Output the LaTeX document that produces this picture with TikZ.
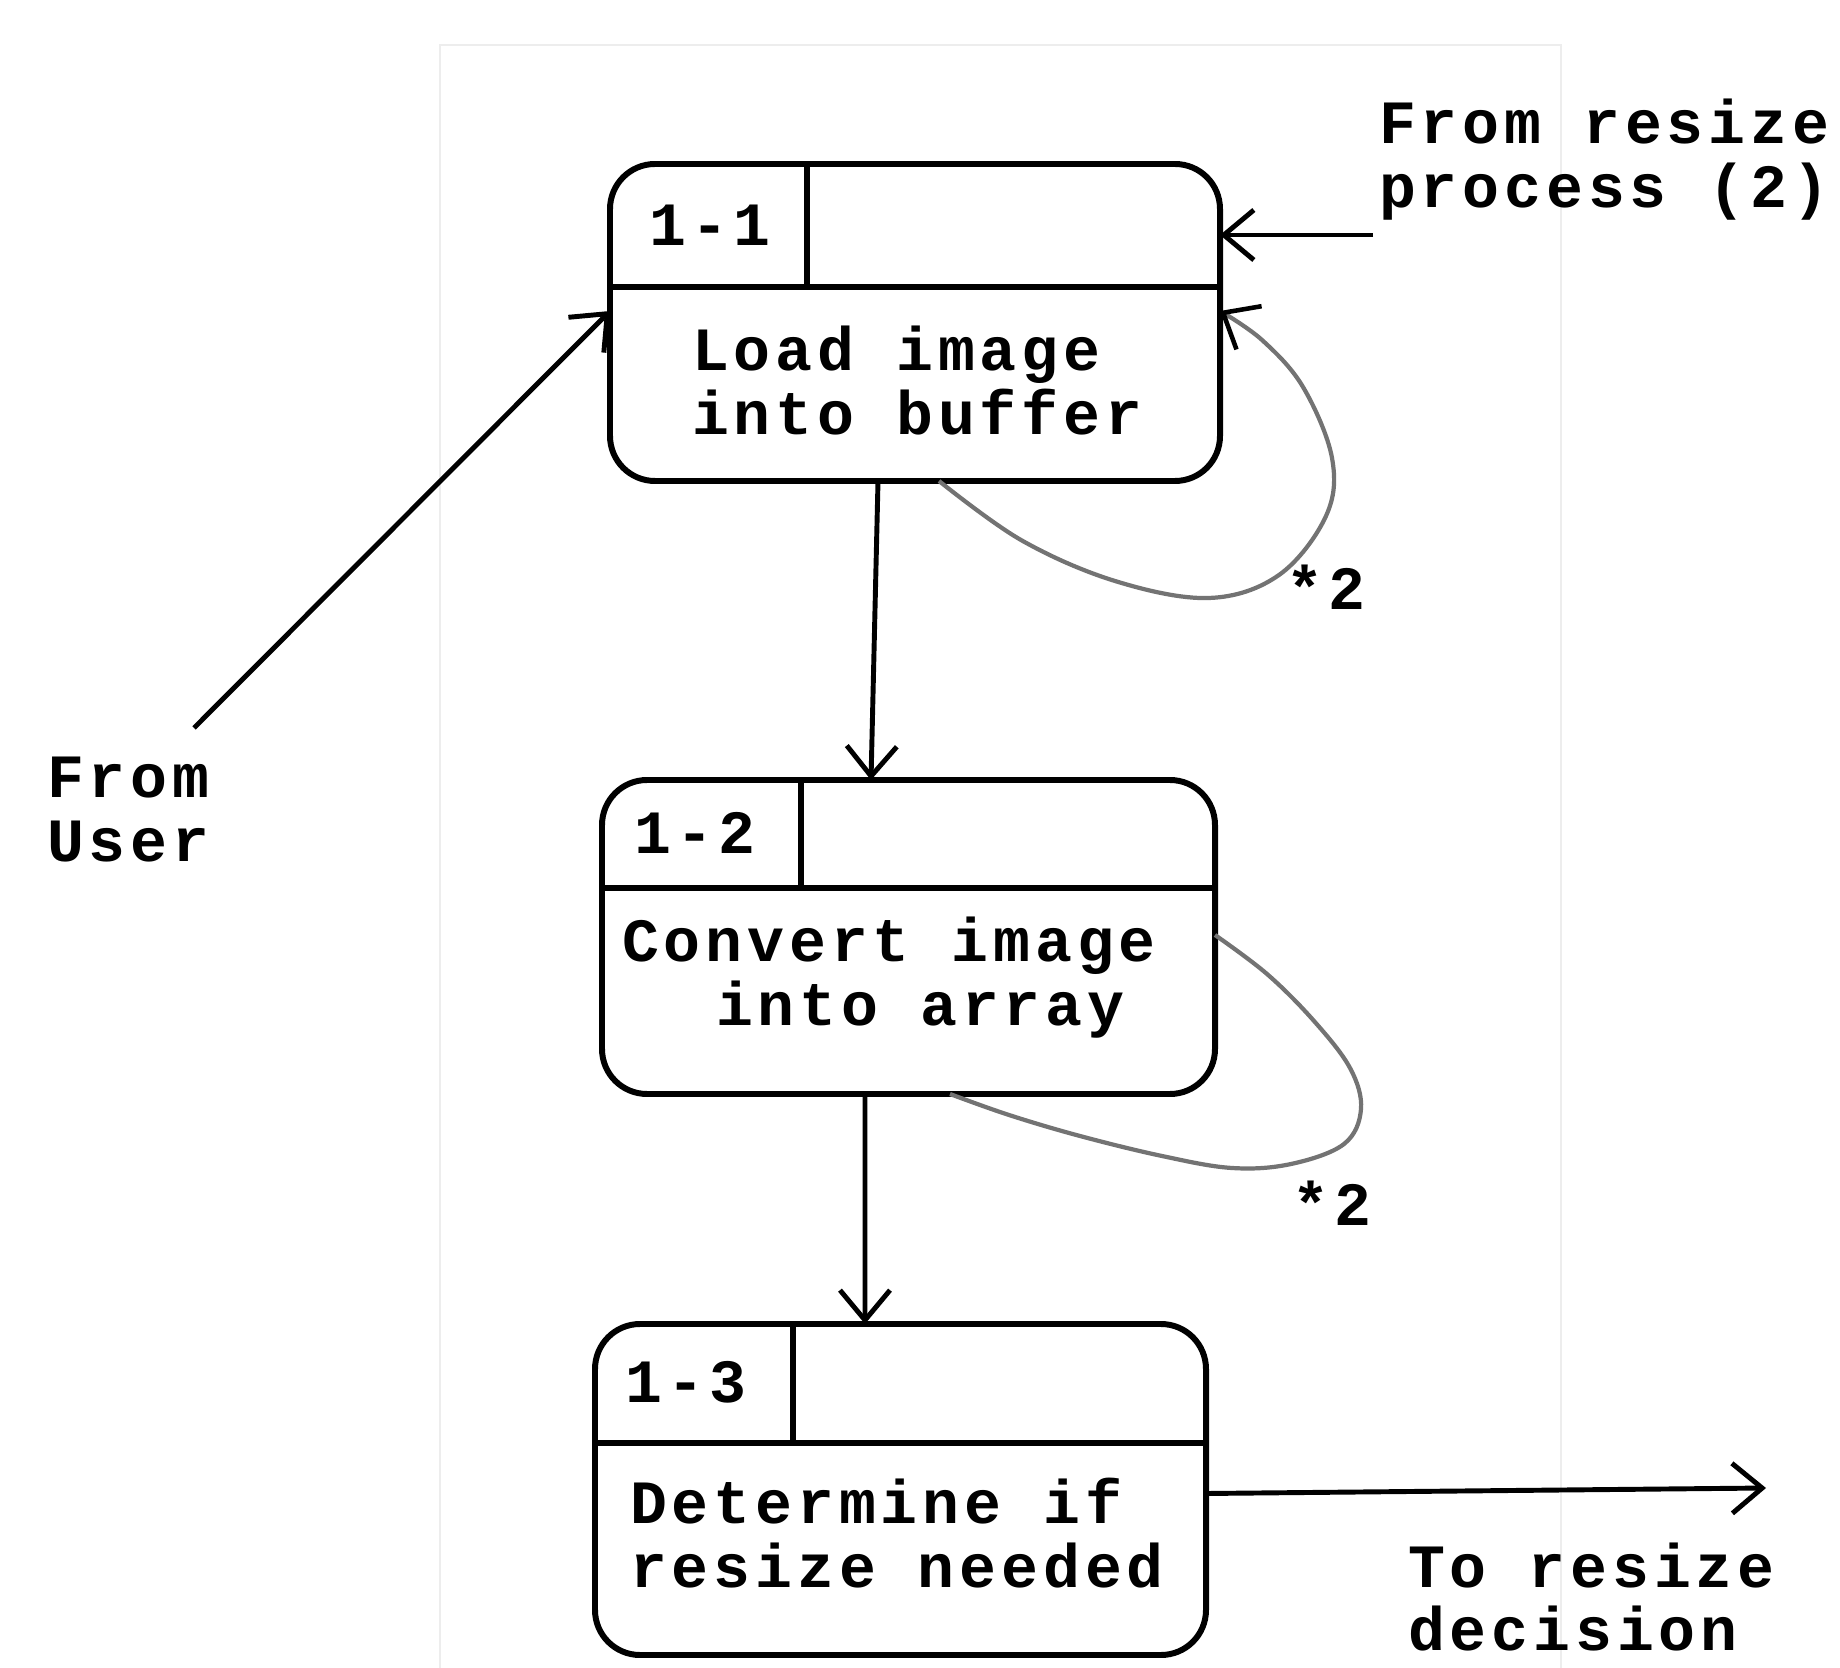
\documentclass[tikz,border=0pt]{standalone}
\usepackage{fontspec}
\newfontfamily\tw[LetterSpace=8]{Liberation Mono}
\usetikzlibrary{arrows.meta,calc}
\begin{document}
\begin{tikzpicture}[x=0.1mm,y=-0.1mm,
  every node/.style={font=\tw\bfseries\fontsize{17.5pt}{18.2pt}\selectfont, inner sep=0pt, outer sep=0pt},
  procbox/.style={draw, line width=1.7pt, rounded corners=4.5mm},
  div/.style={line width=1.6pt},
  flow/.style={line width=1.4pt, -{Straight Barb[length=3mm,width=5mm,line width=1.4pt]}},
  loopline/.style={line width=1.2pt, black!55},
  txt/.style={align=left, anchor=west}]
\useasboundingbox (0,0) rectangle (1840,1668);
% faint scan frame
\draw[black!7, line width=0.6pt] (440,1668) -- (440,45) -- (1561,45) -- (1561,1668);

% process boxes
\node[procbox, minimum width=61mm, minimum height=31.7mm] (p1) at (915,322.5) {};
\node[procbox, minimum width=61.3mm, minimum height=31.4mm] (p2) at (908.5,937) {};
\node[procbox, minimum width=61.1mm, minimum height=33.1mm] (p3) at (900.5,1489.5) {};

% dividers
\draw[div] ($(p1.north west)+(0,123)$) -- ($(p1.north east)+(0,123)$);
\draw[div] ($(p1.north west)+(197,0)$) -- ($(p1.north west)+(197,123)$);
\draw[div] ($(p2.north west)+(0,108)$) -- ($(p2.north east)+(0,108)$);
\draw[div] ($(p2.north west)+(199,0)$) -- ($(p2.north west)+(199,108)$);
\draw[div] ($(p3.north west)+(0,119)$) -- ($(p3.north east)+(0,119)$);
\draw[div] ($(p3.north west)+(198,0)$) -- ($(p3.north west)+(198,119)$);

% ids
\node (n1) at (710,225) {1-1};
\node (n2) at (695,833) {1-2};
\node (n3) at (686,1382) {1-3};

% box texts
\node[txt] (t1) at (692,381) {Load image\\into buffer};
\node[txt] (t2) at (622,978) {Convert image\\\hspace*{9.4mm}into array};
\node[txt] (t3) at (630,1533) {Determine if\\resize needed};

% outside labels
\node[txt] (lres) at (1379,160) {From resize\\process (2)};
\node[txt] (luser) at (47,810) {From\\User};
\node[txt] (lto) at (1408,1597) {To resize\\decision};
\node (s1) at (1326,587) {*2};
\node (s2) at (1332,1203) {*2};

% connectors
\coordinate (rs) at (1373,235);
\draw[flow] (rs) -- (p1.east |- rs);
\coordinate (us) at (194,728);
\draw[flow] (us) -- ($(p1.north west)+(0,147)$);
\draw[flow] ($(p1.south west)+(268,0)$) -- ($(p2.north west)+(269,0)$);
\draw[flow] ($(p2.south west)+(263,0)$) -- ($(p3.north west)+(270,0)$);
\coordinate (outend) at (1766,1488);
\draw[flow] ($(p3.east)+(0,4)$) -- (outend);

% self loops
\draw[loopline, -{Straight Barb[length=3mm,width=5mm,line width=1.3pt,color=black]}]
  plot[smooth, tension=0.6] coordinates {($(p1.south west)+(329,0)$) (1021,540) (1115,581) (1209,598) (1279,575) (1326,516) (1332,458) (1303,387) (1262,340) (p1.east |- 0,311)};
\draw[loopline]
  plot[smooth, tension=0.6] coordinates {(p2.east |- 0,935) (1267,974) (1314,1021) (1350,1068) (1361,1109) (1344,1144) (1291,1164) (1232,1168) (1162,1156) (1080,1136) (1009,1115) ($(p2.south west)+(348,0)$)};
\end{tikzpicture}
\end{document}
